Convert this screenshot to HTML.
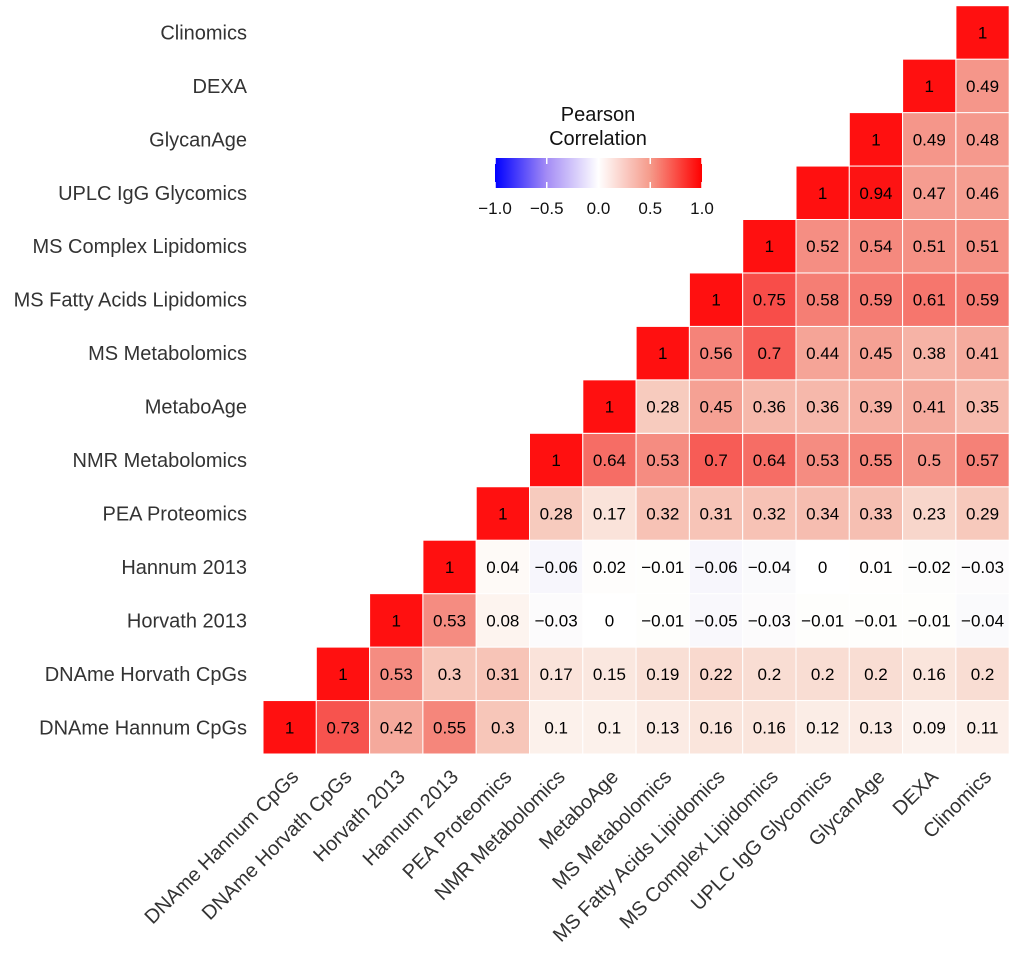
<!DOCTYPE html>
<html><head><meta charset="utf-8"><style>
html,body{margin:0;padding:0;background:#fff;width:1020px;height:955px;overflow:hidden}
svg{display:block;font-family:"Liberation Sans",Arial,sans-serif}
</style></head><body>
<svg id="chart" width="1020" height="955">
<defs><linearGradient id="lg" x1="0" x2="1" y1="0" y2="0">
<stop offset="0" stop-color="#0000ff"/><stop offset="0.25" stop-color="#a48cf5"/><stop offset="0.5" stop-color="#ffffff"/><stop offset="0.75" stop-color="#f59a8a"/><stop offset="1" stop-color="#ff0000"/></linearGradient></defs>
<g id="cells"></g><g id="ylabels"></g><g id="xlabels"></g>
<g>
<text x="598" y="121" text-anchor="middle" font-size="20" fill="#111">Pearson</text>
<text x="598" y="145" text-anchor="middle" font-size="20" fill="#111">Correlation</text>
<rect x="495" y="158" width="207" height="30" fill="url(#lg)"/>
<g id="legticks"></g>
</g>
</svg>
<script>
const labels=["DNAme Hannum CpGs","DNAme Horvath CpGs","Horvath 2013","Hannum 2013","PEA Proteomics","NMR Metabolomics","MetaboAge","MS Metabolomics","MS Fatty Acids Lipidomics","MS Complex Lipidomics","UPLC IgG Glycomics","GlycanAge","DEXA","Clinomics"];
const rows=[
[1,0.73,0.42,0.55,0.3,0.1,0.1,0.13,0.16,0.16,0.12,0.13,0.09,0.11],
[1,0.53,0.3,0.31,0.17,0.15,0.19,0.22,0.2,0.2,0.2,0.16,0.2],
[1,0.53,0.08,-0.03,0,-0.01,-0.05,-0.03,-0.01,-0.01,-0.01,-0.04],
[1,0.04,-0.06,0.02,-0.01,-0.06,-0.04,0,0.01,-0.02,-0.03],
[1,0.28,0.17,0.32,0.31,0.32,0.34,0.33,0.23,0.29],
[1,0.64,0.53,0.7,0.64,0.53,0.55,0.5,0.57],
[1,0.28,0.45,0.36,0.36,0.39,0.41,0.35],
[1,0.56,0.7,0.44,0.45,0.38,0.41],
[1,0.75,0.58,0.59,0.61,0.59],
[1,0.52,0.54,0.51,0.51],
[1,0.94,0.47,0.46],
[1,0.49,0.48],
[1,0.49],
[1]];
const legendTicks=[-1,-0.5,0,0.5,1];
const legendTickLabels=["\u22121.0","\u22120.5","0.0","0.5","1.0"];
const NS="http://www.w3.org/2000/svg";
const x0=263,cw=53.3,yb=754,ch=53.45;
const xs=j=>x0+j*cw, ys=i=>yb-(i+1)*ch;
function col(v){
  const t=Math.min(1,Math.abs(v));
  const p=Math.pow(t,1.25);
  if(v>=0){
    const g=Math.max(16,Math.round(255*(1-p)));
    const b=Math.max(16,Math.round(g*(1-0.08*Math.sin(Math.PI*t))));
    const r=Math.round(255-10*Math.sin(Math.PI*t));
    return `rgb(${r},${g},${b})`;
  }
  const r=Math.round(255*(1-p)),g=Math.round(255*(1-1.2*p));
  return `rgb(${Math.max(0,r)},${Math.max(0,g)},252)`;
}
function mk(tag,attrs,parent){const e=document.createElementNS(NS,tag);for(const a in attrs)e.setAttribute(a,attrs[a]);parent.appendChild(e);return e;}
const cells=document.getElementById('cells');
rows.forEach((r,i)=>{r.forEach((v,k)=>{const j=i+k;
  const rc=mk('rect',{x:xs(j),y:ys(i),width:cw,height:ch,fill:col(v),stroke:'#fff','stroke-width':1},cells);
  
  
  const t=mk('text',{x:xs(j)+cw/2,y:ys(i)+ch/2+6,'text-anchor':'middle','font-size':17,fill:'#000'},cells);
  
  
  t.textContent=(v<0?'\u2212'+Math.abs(v):String(v));
});});
const yl=document.getElementById('ylabels'),xl=document.getElementById('xlabels');
labels.forEach((l,i)=>{
  const t=mk('text',{x:247,y:ys(i)+ch/2+7,'text-anchor':'end','font-size':20,fill:'#333'},yl);
  
  
  t.textContent=l;
  const cx=xs(i)+cw/2+10,cy=778;
  const u=mk('text',{x:cx,y:cy,'text-anchor':'end','font-size':20,fill:'#333',transform:`rotate(-45 ${cx} ${cy})`},xl);
  
  
  u.textContent=l;
});
const lt=document.getElementById('legticks');
legendTicks.forEach((v,i)=>{const x=495+(v+1)/2*207;
  const ln=mk('line',{x1:x,x2:x,y1:158,y2:164,stroke:'#fff','stroke-width':1.5},lt);
  
  
  const ln2=mk('line',{x1:x,x2:x,y1:182,y2:188,stroke:'#fff','stroke-width':1.5},lt);
  
  
  const t=mk('text',{x:x,y:214,'text-anchor':'middle','font-size':17,fill:'#111'},lt);
  
  
  t.textContent=legendTickLabels[i];
});
</script>
</body></html>
